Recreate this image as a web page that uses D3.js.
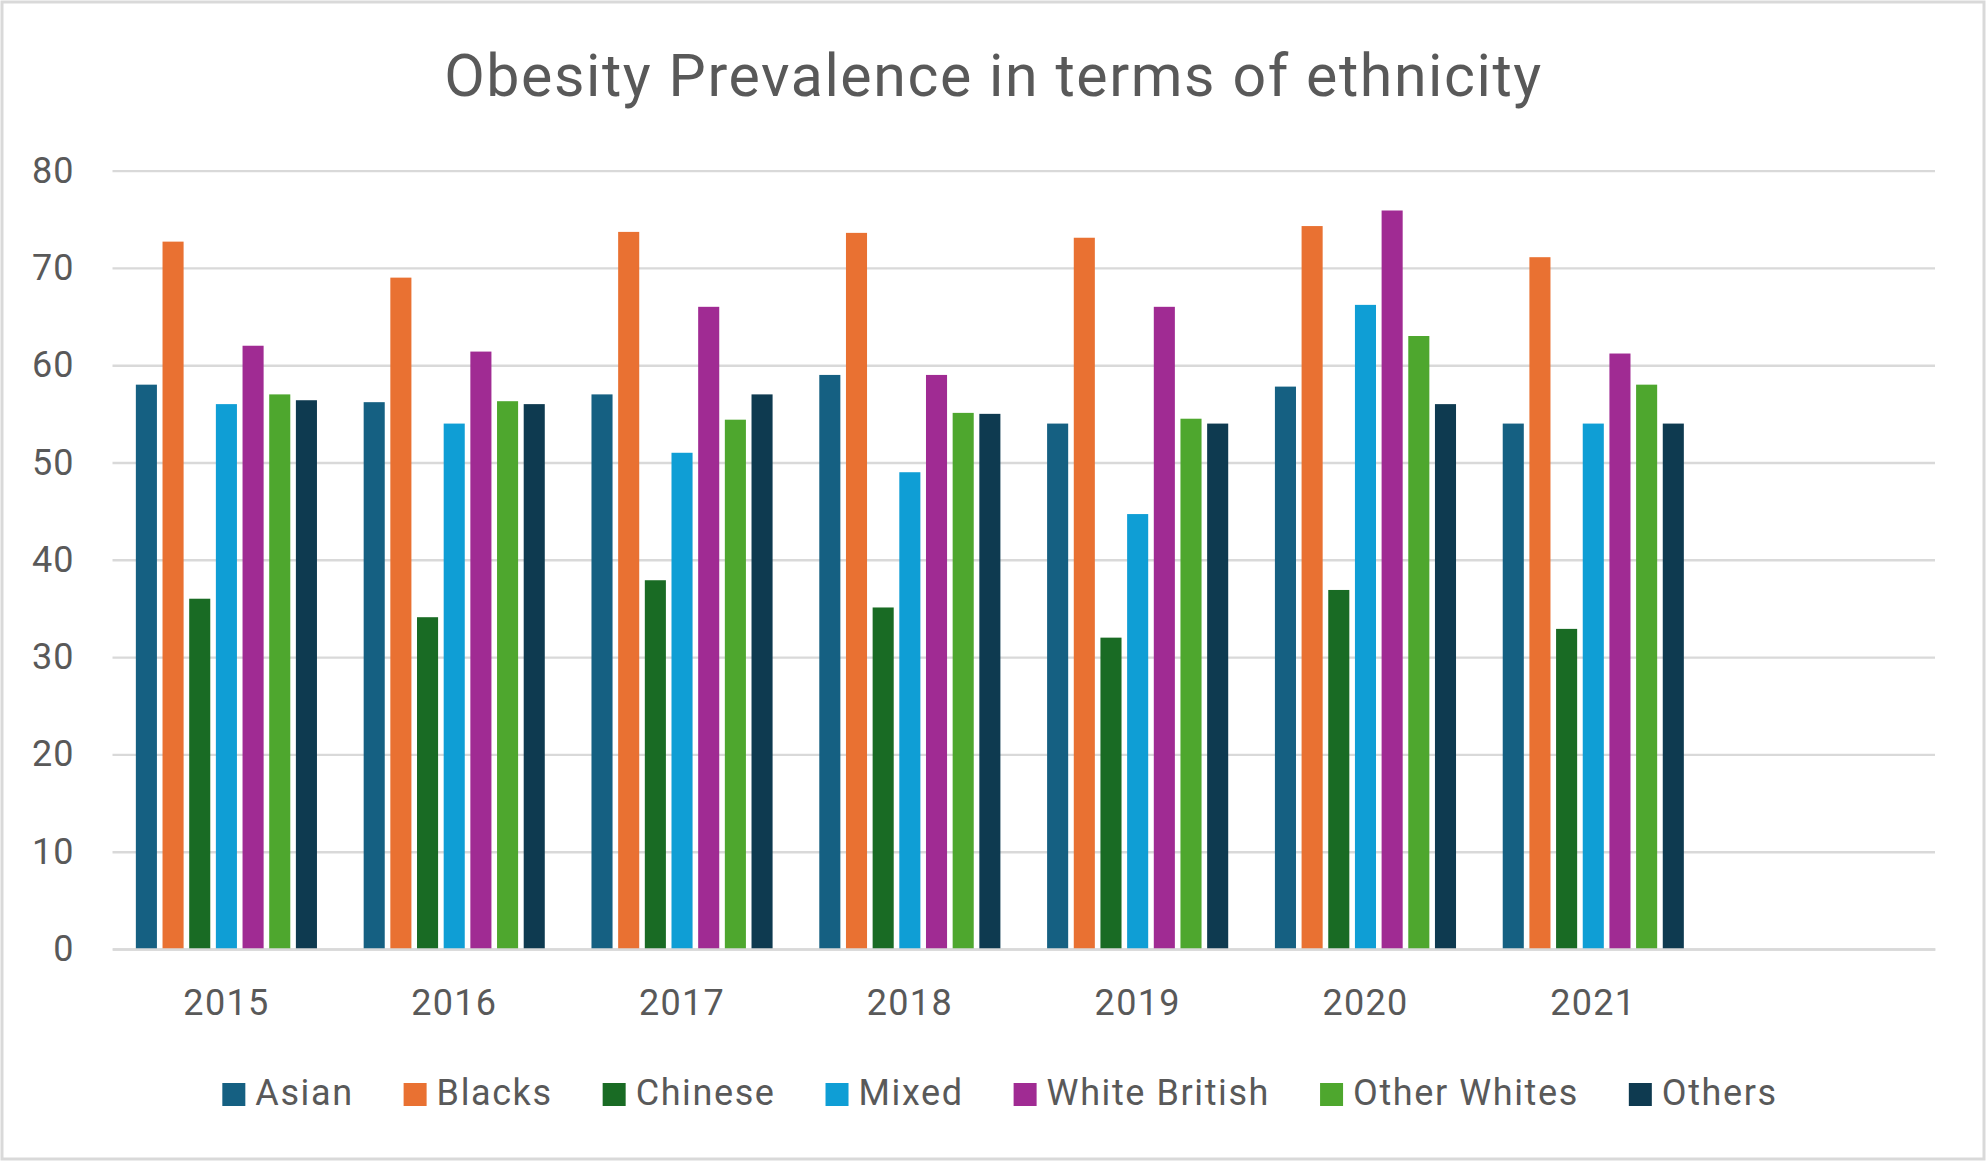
<!DOCTYPE html>
<html>
<head>
<meta charset="utf-8">
<script src="https://cdn.jsdelivr.net/npm/d3@7"></script>
<style>
  body { margin: 0; background: #fff; }
  text { font-family: Roboto, "Liberation Sans", sans-serif; fill: #595959; }
</style>
</head>
<body>
<div id="plot"></div>
<script>
// chart data
const years = ["2015", "2016", "2017", "2018", "2019", "2020", "2021", ""];
const groups = ["Asian", "Blacks", "Chinese", "Mixed", "White British", "Other Whites", "Others"];
const asian        = [58, 56.2, 57, 59, 54, 57.8, 54];
const blacks       = [72.7, 69, 73.7, 73.6, 73.1, 74.3, 71.1];
const chinese      = [36, 34.1, 37.9, 35.1, 32, 36.9, 32.9];
const mixed        = [56, 54, 51, 49, 44.7, 66.2, 54];
const whiteBritish = [62, 61.4, 66, 59, 66, 75.9, 61.2];
const otherWhites  = [57, 56.3, 54.4, 55.1, 54.5, 63, 58];
const others       = [56.4, 56, 57, 55, 54, 56, 54];
const yTicks = [0, 10, 20, 30, 40, 50, 60, 70, 80];
const colors = ["#156082", "#E97132", "#196B24", "#0F9ED5", "#A02B93", "#4EA72E", "#0E3A50"];

const seriesValues = [asian, blacks, chinese, mixed, whiteBritish, otherWhites, others];

// Width and height
const w = 1987;
const h = 1162;
const margin = {top: 170.6, right: 52, bottom: 213, left: 112.5};

const svg = d3.select("div#plot")
  .append("svg")
    .attr("width", w)
    .attr("height", h);

// chart border
svg.append("rect")
  .attr("x", 2)
  .attr("y", 2)
  .attr("width", w - 5)
  .attr("height", h - 5)
  .attr("fill", "#fff")
  .attr("stroke", "#D9D9D9")
  .attr("stroke-width", 3);

// title
svg.append("text")
  .attr("x", w / 2)
  .attr("y", 96)
  .attr("text-anchor", "middle")
  .style("font-size", "59px")
  .style("letter-spacing", "1.6px")
  .text("Obesity Prevalence in terms of ethnicity");

const x0 = d3.scaleBand()
  .domain(years)
  .range([margin.left, w - margin.right])
  .paddingInner(0.205)
  .paddingOuter(0.1025);

const x1 = d3.scaleBand()
  .domain(groups)
  .range([0, x0.bandwidth()])
  .paddingInner(0.21);

const yScale = d3.scaleLinear()
  .domain([0, 80])
  .range([h - margin.bottom, margin.top]);

const color = d3.scaleOrdinal()
  .domain(groups)
  .range(colors);

// gridlines
const yAxis = d3.axisLeft(yScale)
  .tickValues(yTicks)
  .tickSize(-(w - margin.left - margin.right))
  .tickPadding(38);

const ya = svg.append("g")
  .attr("id", "yaxis")
  .attr("transform", `translate(${margin.left},0)`)
  .call(yAxis);
ya.select(".domain").remove();
ya.selectAll(".tick line")
  .attr("stroke", "#D9D9D9")
  .attr("stroke-width", 2.4);
ya.selectAll(".tick text")
  .style("font-size", "36px")
  .style("letter-spacing", "1px")
  .attr("fill", "#595959");

// bars
const rows = years.filter(y => y !== "").map((y, i) => ({
  year: y,
  values: groups.map((g, j) => ({group: g, value: seriesValues[j][i]}))
}));

svg.append("g")
  .selectAll("g")
  .data(rows)
  .join("g")
    .attr("transform", d => `translate(${x0(d.year)},0)`)
  .selectAll("rect")
  .data(d => d.values)
  .join("rect")
    .attr("x", d => x1(d.group))
    .attr("y", d => yScale(d.value))
    .attr("width", x1.bandwidth())
    .attr("height", d => yScale(0) - yScale(d.value))
    .attr("fill", d => color(d.group));

// x-axis
const xAxis = d3.axisBottom(x0)
  .tickSize(0)
  .tickPadding(40);

const xa = svg.append("g")
  .attr("id", "xaxis")
  .attr("transform", `translate(0,${yScale(0)})`)
  .call(xAxis);
xa.select(".domain")
  .attr("stroke", "#D9D9D9")
  .attr("stroke-width", 2.4);
xa.selectAll(".tick text")
  .style("font-size", "36px")
  .style("letter-spacing", "1.3px")
  .attr("fill", "#595959");

// legend
const legend = svg.append("g").attr("id", "legend");
const items = legend.selectAll("g")
  .data(groups)
  .join("g");
items.append("rect")
  .attr("y", 1083)
  .attr("width", 23)
  .attr("height", 23)
  .attr("fill", d => color(d));
items.append("text")
  .attr("x", 33)
  .attr("y", 1105)
  .style("font-size", "36px")
  .style("letter-spacing", "1.6px")
  .text(d => d);

let offset = 0;
const widths = [];
items.each(function() {
  const tw = d3.select(this).select("text").node().getComputedTextLength();
  widths.push(33 + tw);
});
const total = d3.sum(widths) + 50 * (widths.length - 1);
let start = 1000 - total / 2;
items.attr("transform", (d, i) => {
  const tx = start + offset;
  offset += widths[i] + 50;
  return `translate(${tx},0)`;
});
</script>
</body>
</html>
